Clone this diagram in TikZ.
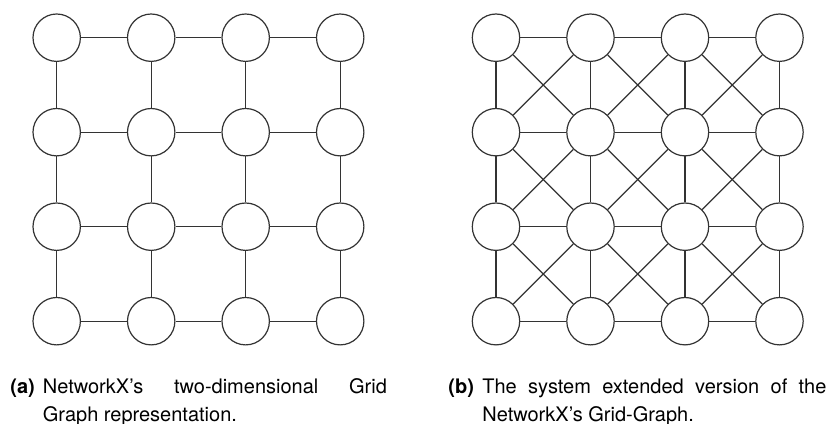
\documentclass[tikz,border=0pt]{standalone}
\usepackage{fontspec}
\setmainfont{TeX Gyre Heros}
\tikzset{
    vertex/.style={circle,draw=black!80,line width=0.6pt,fill=white,
        minimum size=23.7pt,inner sep=0pt},
    edge/.style={black!80,line width=0.6pt},
    subcap/.style={anchor=base west,inner sep=0pt,text width=172pt,
        align=justify,font=\fontsize{10pt}{13.75pt}\selectfont},
    sublabel/.style={anchor=base west,inner sep=0pt,
        font=\fontsize{10pt}{13.75pt}\selectfont\bfseries}
}
\begin{document}
\begin{tikzpicture}[x=0.5pt,y=0.5pt]
    \useasboundingbox (0,0) rectangle (827,424);
    % plain 4x4 grid
    \foreach \i in {0,...,3}
        \foreach \j in {0,...,3}
            \node[vertex] (a\i\j) at (56.7+94.5*\i, 386.3-94.5*\j) {};
    \foreach \i/\k in {0/1,1/2,2/3}
        \foreach \j in {0,...,3} {
            \draw[edge] (a\i\j) -- (a\k\j);
            \draw[edge] (a\j\i) -- (a\j\k);
        }
    % extended grid, with the diagonals
    \foreach \i in {0,...,3}
        \foreach \j in {0,...,3}
            \node[vertex] (b\i\j) at (496+94.5*\i, 386.3-94.5*\j) {};
    \foreach \i/\k in {0/1,1/2,2/3}
        \foreach \j in {0,...,3} {
            \draw[edge] (b\i\j) -- (b\k\j);
            \draw[edge] (b\j\i) -- (b\j\k);
        }
    \foreach \i/\k in {0/1,1/2,2/3}
        \foreach \j/\l in {0/1,1/2,2/3} {
            \draw[edge] (b\i\j) -- (b\k\l);
            \draw[edge] (b\k\j) -- (b\i\l);
        }
    % captions
    \node[sublabel] (capa) at (10,30) {(a)};
    \node[subcap] (texta) at (42.5,30)
        {NetworkX's two-dimensional Grid\linebreak Graph representation.};
    \node[sublabel] (capb) at (448,30) {(b)};
    \node[subcap] (textb) at (482,30)
        {The system extended version of the\linebreak NetworkX's Grid-Graph.};
\end{tikzpicture}
\end{document}
